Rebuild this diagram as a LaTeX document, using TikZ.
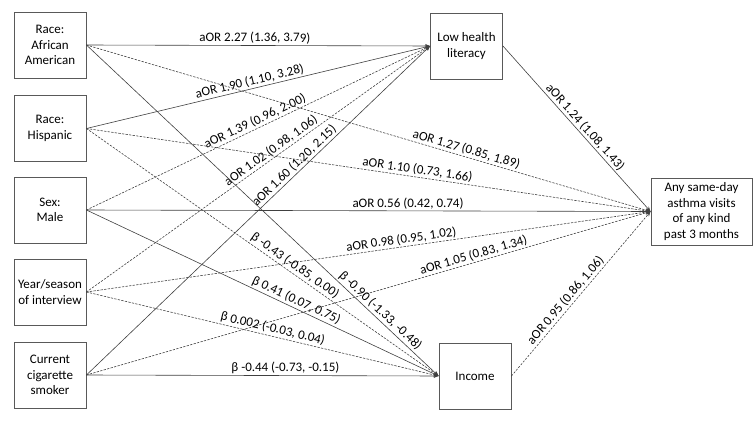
\documentclass[tikz,border=0pt]{standalone}
\usepackage{fontspec}
\setmainfont{Carlito}
\usetikzlibrary{arrows.meta}

\begin{document}
\begin{tikzpicture}[x=1pt,y=-1pt,>={Stealth[length=5pt,width=4pt]},
  font=\fontsize{13}{15.6}\selectfont,line cap=round,
  box/.style={draw=black!65,line width=0.9pt,align=center,minimum width=72pt,minimum height=66pt,inner sep=2pt},
  sig/.style={->,draw=black!75,line width=0.6pt},
  nsig/.style={sig,dash pattern=on 2pt off 1.6pt},
  lab/.style={sloped,above,inner sep=1.5pt}]
\useasboundingbox (0,0) rectangle (753,423);
% exposures
\node[box] (aa) at (50,45) {Race:\\African\\American};
\node[box] (hisp) at (50,128.5) {Race:\\Hispanic};
\node[box] (sex) at (50,210) {Sex:\\Male};
\node[box] (year) at (50,292) {Year/season\\of interview};
\node[box] (smoke) at (50,375) {Current\\cigarette\\smoker};
% mediators and outcome
\node[box] (lhl) at (466.5,46) {Low health\\literacy};
\node[box] (inc) at (475,376) {Income};
\node[box,minimum width=101pt,minimum height=67pt] (out) at (701.5,211.5) {Any same-day\\asthma visits\\of any kind\\past 3 months};
% to low health literacy
\draw[sig] (aa.east) -- node[lab,pos=0.49]{aOR 2.27 (1.36, 3.79)} (lhl.west);
\draw[sig] (hisp.east) -- node[lab,pos=0.48]{aOR 1.90 (1.10, 3.28)} (lhl.west);
\draw[nsig] (sex.east) -- node[lab,pos=0.5]{aOR 1.39 (0.96, 2.00)} (lhl.west);
\draw[nsig] (year.east) -- node[lab,pos=0.55]{aOR 1.02 (0.98, 1.06)} (lhl.west);
\draw[sig] (smoke.east) -- node[lab,pos=0.62]{aOR 1.60 (1.20, 2.15)} (lhl.west);
% to the outcome
\draw[nsig] (aa.east) -- node[lab,pos=0.67]{aOR 1.27 (0.85, 1.89)} (out.west);
\draw[nsig] (hisp.east) -- node[lab,pos=0.585]{aOR 1.10 (0.73, 1.66)} (out.west);
\draw[sig] (sex.east) -- node[lab,pos=0.57]{aOR 0.56 (0.42, 0.74)} (out.west);
\draw[nsig] (year.east) -- node[lab,pos=0.56]{aOR 0.98 (0.95, 1.02)} (out.west);
\draw[nsig] (smoke.east) -- node[lab,pos=0.69]{aOR 1.05 (0.83, 1.34)} (out.west);
% to income
\draw[sig] (aa.east) -- node[lab,pos=0.82]{β -0.90 (-1.33, -0.48)} (inc.west);
\draw[nsig] (hisp.east) -- node[lab,pos=0.58]{β -0.43 (-0.85, 0.00)} (inc.west);
\draw[sig] (sex.east) -- node[lab,pos=0.587]{β 0.41 (0.07, 0.75)} (inc.west);
\draw[nsig] (year.east) -- node[lab,pos=0.524]{β 0.002 (-0.03, 0.04)} (inc.west);
\draw[sig] (smoke.east) -- node[lab,pos=0.565]{β -0.44 (-0.73, -0.15)} (inc.west);
% mediators to the outcome
\draw[sig] (lhl.east) -- node[lab,pos=0.52]{aOR 1.24 (1.08, 1.43)} (out.west);
\draw[nsig] (inc.east) -- node[lab,pos=0.43]{aOR 0.95 (0.86, 1.06)} (out.west);
\end{tikzpicture}
\end{document}
